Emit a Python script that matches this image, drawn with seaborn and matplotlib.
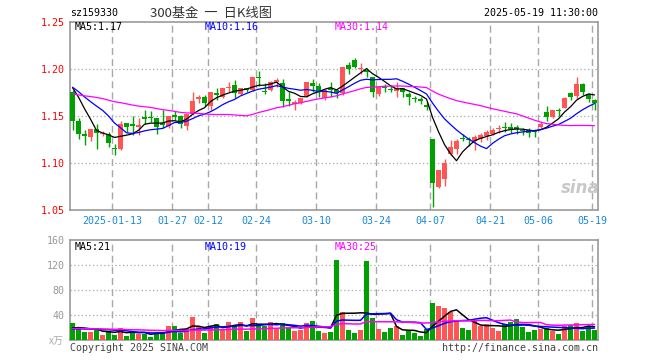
import numpy as np
import pandas as pd
import matplotlib
matplotlib.use("Agg")
import matplotlib.pyplot as plt
import seaborn as sns

# daily K-line of sz159330, 2025-01-02 .. 2025-05-19 (88 sessions)
opens = [1.176, 1.145, 1.131, 1.128, 1.136, 1.131, 1.131, 1.116, 1.115, 1.143,
         1.142, 1.138, 1.149, 1.149, 1.148, 1.143, 1.139, 1.151, 1.150, 1.139,
         1.152, 1.168, 1.170, 1.161, 1.174, 1.170, 1.180, 1.183, 1.173, 1.180,
         1.178, 1.191, 1.177, 1.178, 1.186, 1.185, 1.168, 1.163, 1.164, 1.171,
         1.185, 1.182, 1.169, 1.180, 1.178, 1.175, 1.204, 1.210, 1.200, 1.199,
         1.191, 1.173, 1.181, 1.179, 1.177, 1.180, 1.173, 1.169, 1.168, 1.162,
         1.126, 1.074, 1.083, 1.110, 1.115, 1.127, 1.125, 1.123, 1.125, 1.129,
         1.131, 1.136, 1.138, 1.138, 1.138, 1.135, 1.135, 1.134, 1.138, 1.154,
         1.149, 1.156, 1.158, 1.175, 1.171, 1.184, 1.173, 1.167]
highs = [1.178, 1.148, 1.135, 1.136, 1.142, 1.134, 1.133, 1.120, 1.145, 1.143,
         1.150, 1.148, 1.156, 1.155, 1.148, 1.156, 1.150, 1.155, 1.151, 1.152,
         1.175, 1.172, 1.172, 1.175, 1.180, 1.180, 1.186, 1.188, 1.180, 1.180,
         1.191, 1.198, 1.185, 1.187, 1.190, 1.189, 1.175, 1.167, 1.169, 1.186,
         1.189, 1.185, 1.179, 1.186, 1.178, 1.202, 1.207, 1.212, 1.206, 1.201,
         1.192, 1.182, 1.184, 1.183, 1.186, 1.180, 1.176, 1.171, 1.170, 1.165,
         1.126, 1.093, 1.104, 1.124, 1.126, 1.131, 1.128, 1.130, 1.132, 1.135,
         1.137, 1.140, 1.144, 1.143, 1.140, 1.137, 1.137, 1.136, 1.144, 1.161,
         1.156, 1.158, 1.170, 1.176, 1.191, 1.185, 1.174, 1.168]
lows = [1.135, 1.126, 1.119, 1.123, 1.115, 1.129, 1.117, 1.109, 1.114, 1.133,
        1.130, 1.130, 1.142, 1.144, 1.131, 1.137, 1.137, 1.146, 1.137, 1.135,
        1.151, 1.164, 1.161, 1.156, 1.167, 1.169, 1.175, 1.169, 1.172, 1.175,
        1.177, 1.182, 1.173, 1.177, 1.181, 1.160, 1.161, 1.156, 1.163, 1.170,
        1.176, 1.170, 1.167, 1.170, 1.169, 1.172, 1.195, 1.201, 1.195, 1.192,
        1.170, 1.171, 1.176, 1.175, 1.170, 1.170, 1.162, 1.165, 1.163, 1.156,
        1.053, 1.073, 1.075, 1.108, 1.110, 1.123, 1.118, 1.114, 1.122, 1.124,
        1.130, 1.132, 1.133, 1.132, 1.131, 1.130, 1.128, 1.128, 1.137, 1.145,
        1.148, 1.150, 1.158, 1.167, 1.168, 1.172, 1.165, 1.156]
closes = [1.145, 1.131, 1.129, 1.136, 1.132, 1.132, 1.121, 1.115, 1.142, 1.138,
          1.139, 1.140, 1.147, 1.148, 1.138, 1.140, 1.150, 1.149, 1.142, 1.152,
          1.166, 1.170, 1.164, 1.175, 1.172, 1.180, 1.181, 1.174, 1.180, 1.178,
          1.191, 1.190, 1.175, 1.186, 1.188, 1.166, 1.166, 1.165, 1.169, 1.186,
          1.182, 1.177, 1.178, 1.178, 1.174, 1.202, 1.200, 1.202, 1.201, 1.197,
          1.175, 1.181, 1.180, 1.178, 1.180, 1.176, 1.170, 1.168, 1.166, 1.160,
          1.079, 1.093, 1.100, 1.117, 1.123, 1.126, 1.124, 1.128, 1.130, 1.133,
          1.135, 1.137, 1.137, 1.136, 1.136, 1.134, 1.132, 1.133, 1.142, 1.149,
          1.156, 1.155, 1.169, 1.170, 1.184, 1.176, 1.168, 1.164]
# volume, unit 万
volumes = [28.0, 19.5, 13.1, 13.1, 16.3, 8.8, 14.7, 8.8, 19.5, 6.7,
           13.1, 10.4, 10.4, 5.1, 13.6, 13.6, 22.7, 22.7, 12.0, 17.4,
           37.1, 21.1, 12.0, 22.7, 25.4, 17.4, 29.1, 22.7, 29.1, 13.7,
           35.5, 25.4, 22.7, 29.1, 19.0, 27.5, 19.0, 13.7, 16.3, 27.5,
           30.7, 14.7, 11.5, 13.1, 128.3, 45.1, 16.3, 11.5, 16.3, 126.7,
           35.0, 17.9, 13.1, 19.5, 22.7, 8.3, 14.7, 11.5, 6.7, 17.9,
           59.5, 54.7, 51.5, 45.1, 30.7, 19.5, 16.3, 30.7, 22.7, 25.9,
           19.5, 14.7, 25.9, 29.1, 33.9, 21.1, 13.1, 16.3, 17.9, 19.5,
           14.7, 9.9, 22.7, 24.3, 27.5, 14.7, 22.7, 16.3]

# sessions before the window (not drawn), estimated so the averages start where the picture shows
prior_closes = [1.165, 1.160, 1.158, 1.162, 1.168, 1.170, 1.166, 1.172, 1.175, 1.178,
                1.172, 1.168, 1.170, 1.174, 1.176, 1.172, 1.181, 1.175, 1.168, 1.172,
                1.178, 1.185, 1.186, 1.180, 1.176, 1.182, 1.190, 1.192, 1.192]
prior_volumes = [20, 17, 22, 18, 16, 21, 19, 17, 23, 18, 15, 20, 19, 17, 22,
                 18, 16, 20, 19, 18.3, 15, 16, 14, 17, 15.5, 18, 16, 19, 16.2]

date_pos = [7, 17, 23, 31, 41, 51, 60, 70, 78, 87]
date_labels = ['2025-01-13', '01-27', '02-12', '02-24', '03-10',
               '03-24', '04-07', '04-21', '05-06', '05-19']
price_ticks = [1.05, 1.10, 1.15, 1.20, 1.25]
vol_ticks = [40, 80, 120, 160]

sns.set_style("white")
plt.rcParams['font.family'] = ['DejaVu Sans Mono', 'Noto Sans CJK SC']

RED, GREEN = '#ff5555', '#00a000'
GRID = '#a8a8a8'
BLUE_TXT = '#1a88d8'

n = len(closes)
df = pd.DataFrame({'i': range(n), 'open': opens, 'high': highs, 'low': lows,
                   'close': closes, 'vol': volumes})
df['dir'] = np.where(df['close'] >= df['open'], 'up', 'down')
c_all = pd.Series(prior_closes + closes)
v_all = pd.Series(prior_volumes + volumes)
for w in (5, 10, 30):
    df[f'ma{w}'] = c_all.rolling(w).mean().iloc[-n:].to_numpy()
    df[f'vma{w}'] = v_all.rolling(w).mean().iloc[-n:].to_numpy()
colors = np.where(df['dir'] == 'up', RED, GREEN)

W, H = 660, 360
fig = plt.figure(figsize=(W / 100, H / 100), dpi=100)
ax = fig.add_axes([70 / W, 1 - 210 / H, 528 / W, 188 / H])
axv = fig.add_axes([70 / W, 1 - 340 / H, 528 / W, 100 / H])

x_lo, x_hi = -0.42, 87.58
grid_x = [p - 0.42 for p in date_pos]

# candles
ax.vlines(df['i'], df['low'], df['high'], colors=colors, lw=1, zorder=3)
body = (df['close'] - df['open']).abs().clip(lower=0.0011)
mid = (df['close'] + df['open']) / 2
ax.bar(df['i'], body, bottom=mid - body / 2, width=0.8, color=colors,
       linewidth=0, zorder=3)

for col, c in (('ma5', 'black'), ('ma10', '#0000ff'), ('ma30', '#ff00ff')):
    sns.lineplot(data=df, x='i', y=col, color=c, lw=0.9, ax=ax, zorder=4)

# volume
sns.barplot(data=df, x='i', y='vol', hue='dir', palette={'up': RED, 'down': GREEN},
            dodge=False, width=0.8, saturation=1, errorbar=None, legend=False,
            linewidth=0, ax=axv, zorder=3)
for col, c in (('vma5', 'black'), ('vma10', '#0000ff'), ('vma30', '#ff00ff')):
    sns.lineplot(data=df, x='i', y=col, color=c, lw=1.1, ax=axv, zorder=4)

for a in (ax, axv):
    a.set_xlim(x_lo, x_hi)
    a.set_xlabel('')
    a.set_ylabel('')
    for gx in grid_x:
        a.axvline(gx, color=GRID, ls=(0, (5, 3)), lw=1, zorder=1)
    for s in a.spines.values():
        s.set_color('#999999')
        s.set_linewidth(1.2)
    a.tick_params(length=0)

ax.set_ylim(1.05, 1.25)
for yv in price_ticks[1:-1]:
    ax.axhline(yv, color=GRID, ls=(0, (1, 2)), lw=0.9, zorder=1)
ax.set_yticks(price_ticks)
ax.set_yticklabels([f'{v:.2f}' for v in price_ticks], color='red', fontsize=7.2)
ax.set_xticks(grid_x)
ax.set_xticklabels(date_labels, color=BLUE_TXT, fontsize=7.2)
ax.tick_params(axis='x', pad=4)
ax.tick_params(axis='y', pad=4)

axv.set_ylim(0, 160)
for yv in vol_ticks[:-1]:
    axv.axhline(yv, color=GRID, ls=(0, (1, 2)), lw=0.9, zorder=1)
axv.set_yticks(vol_ticks)
axv.set_yticklabels([str(v) for v in vol_ticks], color='#999999', fontsize=7.2)
axv.set_xticks([])
axv.tick_params(axis='y', pad=4)


def txt(x, y, s, **kw):
    kw.setdefault('fontsize', 7.2)
    kw.setdefault('va', 'center')
    fig.text(x / W, 1 - y / H, s, **kw)


txt(70, 13, 'sz159330', color='black')
txt(150, 13, '300基金  一  日K线图', color='#333333', fontsize=9.5,
    family=['Noto Sans CJK SC', 'DejaVu Sans'])
txt(598, 13, '2025-05-19 11:30:00', color='black', ha='right')
txt(75, 27, f'MA5:{df.ma5.iloc[-1]:.2f}', color='black')
txt(205, 27, f'MA10:{df.ma10.iloc[-1]:.2f}', color='#0000ff')
txt(335, 27, f'MA30:{df.ma30.iloc[-1]:.2f}', color='#ff00ff')
txt(75, 247, f'MA5:{df.vma5.iloc[-1]:.0f}', color='black')
txt(205, 247, f'MA10:{df.vma10.iloc[-1]:.0f}', color='#0000ff')
txt(335, 247, f'MA30:{df.vma30.iloc[-1]:.0f}', color='#ff00ff')
txt(64, 341, 'x万', color='#aaaaaa', ha='right', family=['Noto Sans CJK SC'])
txt(70, 348, 'Copyright 2025 SINA.COM', color='#444444')
txt(598, 348, 'http://finance.sina.com.cn', color='#444444', ha='right')
txt(580, 188, 'sina', color='#c8c8c8', fontsize=12, ha='center',
    fontweight='bold', style='italic', family=['DejaVu Sans'])

fig.savefig('out.png', dpi=100)
